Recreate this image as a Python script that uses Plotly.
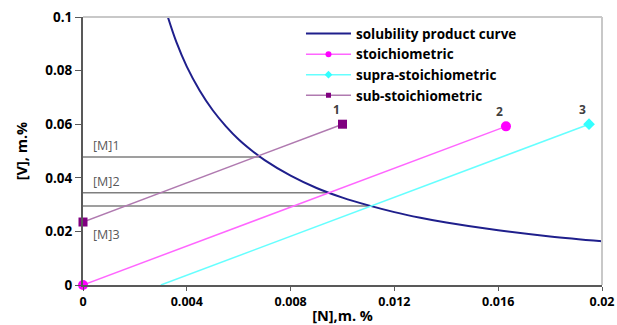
import plotly.graph_objects as go

# solubility product curve
curve_n = [0.00327, 0.0036, 0.004, 0.0045, 0.005, 0.0055, 0.006, 0.0065, 0.007, 0.008, 0.009, 0.010, 0.011, 0.012, 0.013, 0.014, 0.016, 0.018, 0.020]
curve_v = [0.100, 0.0906, 0.0815, 0.0725, 0.0652, 0.0593, 0.0543, 0.0502, 0.0466, 0.0408, 0.0362, 0.0326, 0.0297, 0.0272, 0.0251, 0.0233, 0.0204, 0.0181, 0.0163]

stoich_n = [0.0, 0.0163]
stoich_v = [0.0, 0.0592]
supra_n = [0.0030, 0.0195]
supra_v = [0.0, 0.0600]
sub_n = [0.0, 0.0100]
sub_v = [0.0235, 0.0600]

# [M] levels: value and end (intersection with curve)
m_labels = ["[M]1", "[M]2", "[M]3"]
m_levels = [0.0478, 0.0344, 0.0295]
m_ends = [0.00685, 0.0095, 0.0112]

point_labels = ["1", "2", "3"]

fig = go.Figure()

for lvl, end in zip(m_levels, m_ends):
    fig.add_trace(go.Scatter(x=[0, end], y=[lvl, lvl], mode="lines",
                             line=dict(color="#7f7f7f", width=1.5), showlegend=False, hoverinfo="skip"))

fig.add_trace(go.Scatter(x=curve_n, y=curve_v, mode="lines", name="solubility product curve",
                         line=dict(color="#1f1f8c", width=2, shape="spline")))

# stoichiometric
fig.add_trace(go.Scatter(x=stoich_n, y=stoich_v, mode="lines+markers", showlegend=False,
                         line=dict(color="#ff66ff", width=1.5),
                         marker=dict(color="#ff00ff", symbol="circle", size=10), cliponaxis=False))
fig.add_trace(go.Scatter(x=[None], y=[None], mode="lines+markers", name="stoichiometric",
                         line=dict(color="#ff66ff", width=1.5),
                         marker=dict(color="#ff00ff", symbol="circle", size=6)))
# supra
fig.add_trace(go.Scatter(x=supra_n, y=supra_v, mode="lines", line=dict(color="#66ffff", width=1.5),
                         showlegend=False))
fig.add_trace(go.Scatter(x=supra_n[1:], y=supra_v[1:], mode="markers", showlegend=False,
                         marker=dict(color="#33ffff", symbol="diamond", size=9), cliponaxis=False))
fig.add_trace(go.Scatter(x=[None], y=[None], mode="lines+markers", name="supra-stoichiometric",
                         line=dict(color="#66ffff", width=1.5),
                         marker=dict(color="#33ffff", symbol="diamond", size=6)))
# sub
fig.add_trace(go.Scatter(x=sub_n, y=sub_v, mode="lines+markers", showlegend=False,
                         line=dict(color="#b07ab0", width=1.5),
                         marker=dict(color="#800080", symbol="square", size=9), cliponaxis=False))
fig.add_trace(go.Scatter(x=[None], y=[None], mode="lines+markers", name="sub-stoichiometric",
                         line=dict(color="#b07ab0", width=1.5),
                         marker=dict(color="#800080", symbol="square", size=5)))

ann = []
for lab, lvl in zip(m_labels[:2], m_levels[:2]):
    ann.append(dict(x=0.0003, y=lvl, text=lab, showarrow=False, xanchor="left", yanchor="bottom",
                    yshift=1, font=dict(color="#595959", size=12.5)))
ann.append(dict(x=0.0003, y=sub_v[0], text=m_labels[2], showarrow=False, xanchor="left", yanchor="top",
                yshift=-2, font=dict(color="#595959", size=12.5)))
for lab, xx, yy in zip(point_labels, [sub_n[1], stoich_n[1], supra_n[1]], [sub_v[1], stoich_v[1], supra_v[1]]):
    ann.append(dict(x=xx, y=yy, text=lab, showarrow=False, xanchor="right", yanchor="bottom",
                    xshift=-1, yshift=4, font=dict(color="#404040", size=12, weight="bold")))

fig.update_layout(
    width=617, height=325,
    margin=dict(l=83, r=15, t=17, b=40),
    paper_bgcolor="white", plot_bgcolor="white",
    font=dict(family="Open Sans", color="black", size=12),
    showlegend=True,
    legend=dict(x=0.42, y=0.995, xanchor="left", yanchor="top", bgcolor="rgba(0,0,0,0)",
                font=dict(size=13.5, family="Open Sans", weight="bold"), tracegroupgap=0,
                itemwidth=45),
    annotations=ann,
    xaxis=dict(range=[0, 0.02], tickvals=[0, 0.004, 0.008, 0.012, 0.016, 0.02],
               ticktext=["0", "0.004", "0.008", "0.012", "0.016", "0.02"],
               showgrid=False, zeroline=False, showline=True, linecolor="#595959", linewidth=2,
               ticks="outside", ticklen=4, tickcolor="#595959", automargin=False,
               tickfont=dict(size=12.5, weight="bold"),
               title=dict(text="[N],m. %", font=dict(size=14.5, weight="bold"), standoff=8),
               mirror=False),
    yaxis=dict(range=[0, 0.1], tickvals=[0, 0.02, 0.04, 0.06, 0.08, 0.1],
               ticktext=["0", "0.02", "0.04", "0.06", "0.08", "0.1"],
               showgrid=False, zeroline=False, showline=True, linecolor="#595959", linewidth=2,
               ticks="outside", ticklen=6, tickcolor="#595959", automargin=False,
               tickfont=dict(size=13.5, weight="bold"),
               title=dict(text="[V], m.%", font=dict(size=14.5, weight="bold"), standoff=14)),
    shapes=[
        dict(type="line", xref="paper", yref="paper", x0=0, x1=1, y0=1, y1=1, line=dict(color="#c8c8c8", width=2)),
        dict(type="line", xref="paper", yref="paper", x0=1, x1=1, y0=0, y1=1, line=dict(color="#c8c8c8", width=2)),
    ],
)

fig.write_html("out.html")
